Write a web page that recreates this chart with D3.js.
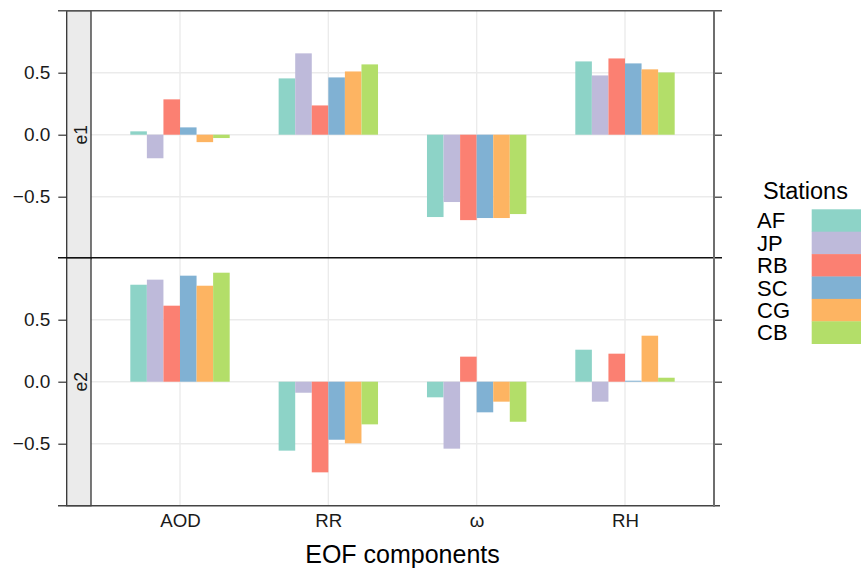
<!DOCTYPE html>
<html>
<head>
<meta charset="utf-8">
<script src="https://cdn.jsdelivr.net/npm/d3@7"></script>
<style>
  body { margin: 0; background: #fff; }
  svg { display: block; font-family: "Liberation Sans", Arial, sans-serif; }
</style>
</head>
<body>
<div id="chart"></div>
<script>
// data
const components = ["AOD", "RR", "\u03C9", "RH"];
const stations = ["AF", "JP", "RB", "SC", "CG", "CB"];
const colors = ["#8DD3C7", "#BEBADA", "#FB8072", "#80B1D3", "#FDB462", "#B3DE69"];
const panels = ["e1", "e2"];

// e1 values, one row per station, columns = components
const e1 = [
  [0.027, 0.454, -0.664, 0.591],
  [-0.19, 0.656, -0.543, 0.478],
  [0.285, 0.236, -0.689, 0.615],
  [0.059, 0.462, -0.672, 0.575],
  [-0.06, 0.51, -0.672, 0.527],
  [-0.027, 0.567, -0.64, 0.502]
];
const e2 = [
  [0.782, -0.556, -0.126, 0.258],
  [0.823, -0.089, -0.54, -0.161],
  [0.613, -0.731, 0.202, 0.226],
  [0.855, -0.468, -0.247, 0.008],
  [0.774, -0.497, -0.161, 0.371],
  [0.879, -0.344, -0.323, 0.032]
];
const yTicks = [-0.5, 0, 0.5];

const W = 861, H = 572;
const panelLeft = 91, panelRight = 714, stripLeft = 66.7;
const panelTops = [10.7, 257.7], panelH = 248;
const groupWidth = 0.67;

const svg = d3.select("#chart").append("svg")
  .attr("width", W)
  .attr("height", H);

const x = d3.scaleLinear()
  .domain([0.4, components.length + 0.6])
  .range([panelLeft, panelRight]);

const barW = groupWidth / stations.length;
const fmt = d3.format(".1f");

panels.forEach(function(p, pi) {
  const vals = pi === 0 ? e1 : e2;
  const top = panelTops[pi];
  const y = d3.scaleLinear().domain([-1, 1]).range([top + panelH, top]);

  const g = svg.append("g").attr("class", "panel");

  // grid
  g.selectAll(".hgrid").data(yTicks).enter().append("line")
    .attr("x1", panelLeft).attr("x2", panelRight)
    .attr("y1", d => y(d)).attr("y2", d => y(d))
    .attr("stroke", "#EBEBEB").attr("stroke-width", 1.4);
  g.selectAll(".vgrid").data(components).enter().append("line")
    .attr("x1", (d, i) => x(i + 1)).attr("x2", (d, i) => x(i + 1))
    .attr("y1", top).attr("y2", top + panelH)
    .attr("stroke", "#EBEBEB").attr("stroke-width", 1.4);

  // bars
  const rows = [];
  vals.forEach(function(row, si) {
    row.forEach(function(v, ci) {
      rows.push({ s: si, c: ci, v: v });
    });
  });
  g.selectAll("rect.bar").data(rows).enter().append("rect")
    .attr("class", "bar")
    .attr("x", d => x(d.c + 1 - groupWidth / 2 + d.s * barW))
    .attr("width", d => x(barW) - x(0))
    .attr("y", d => y(Math.max(0, d.v)))
    .attr("height", d => Math.abs(y(d.v) - y(0)))
    .attr("fill", d => colors[d.s]);

  // strip on the left
  g.append("rect")
    .attr("x", stripLeft).attr("y", top)
    .attr("width", panelLeft - stripLeft).attr("height", panelH)
    .attr("fill", "#EBEBEB").attr("stroke", "#333").attr("stroke-width", 1.3);
  g.append("text")
    .attr("transform", "translate(87," + (top + panelH / 2) + ") rotate(-90)")
    .attr("text-anchor", "middle")
    .style("font-size", "17.5px")
    .attr("fill", "#1a1a1a")
    .text(p);

  // left axis
  const left = g.append("g")
    .attr("transform", "translate(" + stripLeft + ",0)")
    .call(d3.axisLeft(y).tickValues(yTicks).tickFormat(fmt).tickSize(8.4).tickPadding(8));
  left.select(".domain").remove();
  left.selectAll("line").attr("stroke", "#333").attr("stroke-width", 1.2);
  left.selectAll("text").style("font-size", "19px").attr("fill", "#1a1a1a")
    .attr("font-family", "Liberation Sans, Arial, sans-serif");

  // right axis (ticks only)
  const right = g.append("g")
    .attr("transform", "translate(" + panelRight + ",0)")
    .call(d3.axisRight(y).tickValues(yTicks).tickFormat("").tickSize(8));
  right.select(".domain").remove();
  right.selectAll("line").attr("stroke", "#333").attr("stroke-width", 1.2);
});

// panel border lines
svg.append("line")
  .attr("x1", 58).attr("x2", 722).attr("y1", panelTops[0]).attr("y2", panelTops[0])
  .attr("stroke", "#555").attr("stroke-width", 1.5);
svg.append("line")
  .attr("x1", 58).attr("x2", 722).attr("y1", panelTops[1]).attr("y2", panelTops[1])
  .attr("stroke", "#111").attr("stroke-width", 1.5);
svg.append("line")
  .attr("x1", 58).attr("x2", 720).attr("y1", panelTops[1] + panelH).attr("y2", panelTops[1] + panelH)
  .attr("stroke", "#444").attr("stroke-width", 1.5);
svg.append("line")
  .attr("x1", panelRight).attr("x2", panelRight)
  .attr("y1", panelTops[0]).attr("y2", panelTops[1] + panelH + 1)
  .attr("stroke", "#6e6e6e").attr("stroke-width", 2);

// x axis labels
const xAxis = svg.append("g")
  .attr("transform", "translate(0," + (panelTops[1] + panelH) + ")")
  .call(d3.axisBottom(x).tickValues(d3.range(1, components.length + 1))
    .tickFormat(d => components[d - 1]).tickSize(0).tickPadding(8));
xAxis.select(".domain").remove();
xAxis.selectAll("text").style("font-size", "18.7px").attr("fill", "#1a1a1a")
  .attr("font-family", "Liberation Sans, Arial, sans-serif");

svg.append("text")
  .attr("x", (panelLeft + panelRight) / 2).attr("y", 563.3)
  .attr("text-anchor", "middle")
  .style("font-size", "25px")
  .text("EOF components");

// legend
const legend = svg.append("g").attr("class", "legend");
legend.append("text")
  .attr("x", 763).attr("y", 199)
  .style("font-size", "23.5px")
  .text("Stations");
const keyTop = 209.3, keyH = 22.4;
legend.selectAll("rect").data(stations).enter().append("rect")
  .attr("x", 811.7).attr("y", (d, i) => keyTop + i * keyH)
  .attr("width", 55).attr("height", keyH + 0.3)
  .attr("fill", (d, i) => colors[i]);
legend.selectAll("text.lab").data(stations).enter().append("text")
  .attr("class", "lab")
  .attr("x", 757).attr("y", (d, i) => keyTop + i * keyH + keyH / 2 + 7.8)
  .style("font-size", "22px")
  .text(d => d);
</script>
</body>
</html>
